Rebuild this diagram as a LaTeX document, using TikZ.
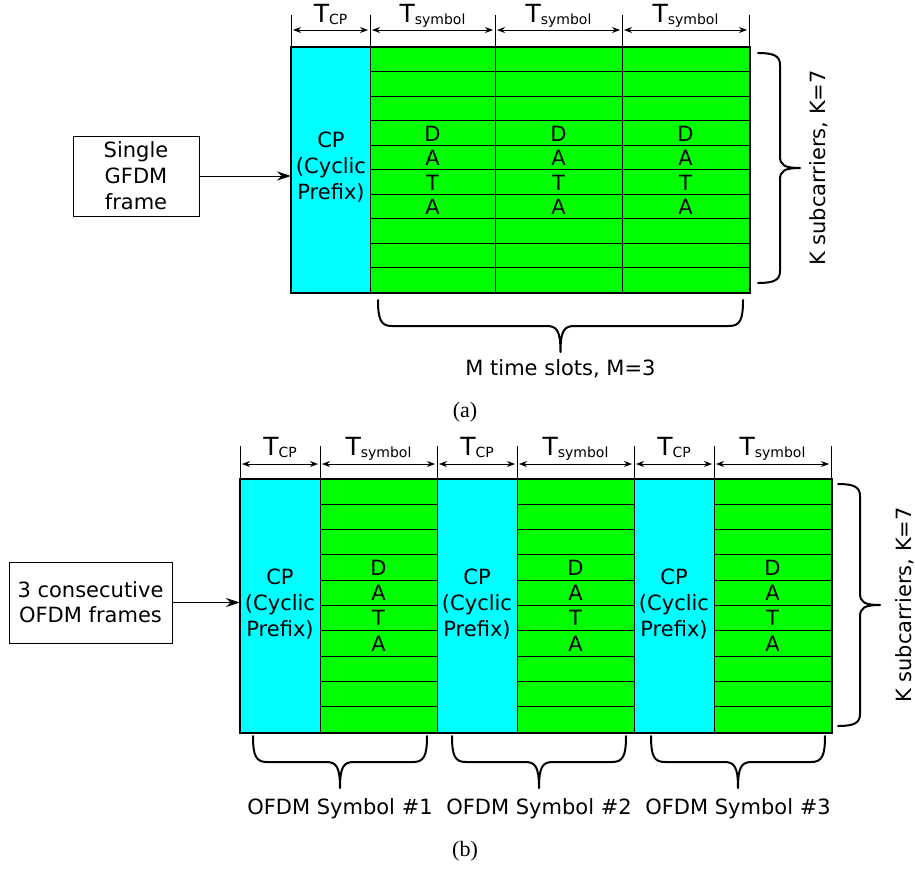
\documentclass[tikz,border=0pt]{standalone}
\usepackage{fontspec}
\setmainfont{DejaVu Sans}
\newfontfamily\capfont{Liberation Serif}
\usetikzlibrary{arrows.meta}
\definecolor{cpcyan}{RGB}{0,255,255}
\definecolor{datagreen}{RGB}{0,255,0}
\newcommand{\Tlab}[1]{T\raisebox{-2pt}{\fontsize{14}{14}\selectfont #1}}
\newcommand{\HBrace}[3]{%
 \draw[brace] (#1,#3) .. controls (#1,{#3+20}) and ({#1+3},{#3+26}) .. ({#1+14},{#3+26})
   -- ({(#1+#2)/2-14},{#3+26}) .. controls ({(#1+#2)/2-4},{#3+26}) and ({(#1+#2)/2},{#3+30}) .. ({(#1+#2)/2},{#3+52})
   .. controls ({(#1+#2)/2},{#3+30}) and ({(#1+#2)/2+4},{#3+26}) .. ({(#1+#2)/2+14},{#3+26})
   -- ({#2-14},{#3+26}) .. controls ({#2-3},{#3+26}) and (#2,{#3+20}) .. (#2,#3);}
\newcommand{\VBrace}[3]{%
 \draw[brace] (#1,#2) .. controls ({#1+16},#2) and ({#1+22},{#2+3}) .. ({#1+22},{#2+12})
   -- ({#1+22},{(#2+#3)/2-12}) .. controls ({#1+22},{(#2+#3)/2-3}) and ({#1+26},{(#2+#3)/2}) .. ({#1+42},{(#2+#3)/2})
   .. controls ({#1+26},{(#2+#3)/2}) and ({#1+22},{(#2+#3)/2+3}) .. ({#1+22},{(#2+#3)/2+12})
   -- ({#1+22},{#3-12}) .. controls ({#1+22},{#3-3}) and ({#1+16},#3) .. (#1,#3);}
\begin{document}
\begin{tikzpicture}[x=1pt,y=-1pt,
  lbl/.style={font=\fontsize{21}{26}\selectfont, inner sep=0pt, align=center},
  vlbl/.style={font=\fontsize{21}{26}\selectfont, inner sep=0pt, rotate=90, anchor=base},
  datalbl/.style={inner sep=0pt, align=center},
  tlbl/.style={font=\fontsize{25}{25}\selectfont, inner sep=0pt, anchor=base},
  cpcol/.style={draw=black, fill=cpcyan, line width=1pt, inner sep=0pt, anchor=north west},
  datcol/.style={draw=black, fill=datagreen, line width=1pt, inner sep=0pt, anchor=north west},
  outer/.style={draw=black, line width=1.5pt},
  rowline/.style={line width=0.9pt},
  tickline/.style={line width=0.9pt},
  dimarrow/.style={{Stealth[length=8pt,width=6pt]}-{Stealth[length=8pt,width=6pt]}, line width=0.9pt},
  conn/.style={-{Stealth[length=14pt,width=9pt]}, line width=1pt},
  framebox/.style={draw=black, line width=1pt, inner sep=0pt, align=center},
  brace/.style={line width=2pt, line cap=round, line join=round},
  caption/.style={font=\capfont\fontsize{22}{22}\selectfont, inner sep=0pt},
]
\useasboundingbox (0,0) rectangle (915,870);

% ================= (a) =================
\node[cpcol, minimum width=79pt, minimum height=245pt] (cpA) at (291,47) {};
\node[datcol, minimum width=125pt, minimum height=245pt] (dA1) at (370,47) {};
\node[datcol, minimum width=127pt, minimum height=245pt] (dA2) at (495,47) {};
\node[datcol, minimum width=127pt, minimum height=245pt] (dA3) at (622,47) {};
\foreach \i in {1,...,9} \draw[rowline] (370,{47+24.5*\i}) -- (749,{47+24.5*\i});
\draw[outer] (cpA.north west) rectangle (dA3.south east);

\node[lbl] (cptA) at (331,167.3) {CP\\(Cyclic\\Prefix)};
\foreach \x/\n in {432.5/1,558.5/2,685.5/3}
  \node[datalbl, font=\fontsize{21}{24.5}\selectfont] (dtA\n) at (\x,170.2) {D\\A\\T\\A};

% top dimensions (a)
\foreach \x/\n in {291/0,370/1,495/2,622/3,749/4} {
  \coordinate (tA\n) at (\x,30);
  \draw[tickline] (\x,15) -- (\x,47);
}
\foreach \a/\b in {0/1,1/2,2/3,3/4}
  \draw[dimarrow] ([xshift=2pt]tA\a) -- ([xshift=-2pt]tA\b);
\node[tlbl] (lTA0) at (330.5,22) {\Tlab{CP}};
\node[tlbl] (lTA1) at (432.5,22) {\Tlab{symbol}};
\node[tlbl] (lTA2) at (558.5,22) {\Tlab{symbol}};
\node[tlbl] (lTA3) at (685.5,22) {\Tlab{symbol}};

% input box (a)
\node[framebox, font=\fontsize{21}{26}\selectfont, minimum width=126pt, minimum height=80pt] (boxA) at (136,176) {Single\\GFDM\\frame};
\draw[conn] (boxA.east) -- (boxA.east -| cpA.west);

% braces (a)
\VBrace{758}{53}{283}
\node[vlbl] (kA) at (825,168) {K subcarriers, K=7};
\HBrace{378}{743}{300}
\node[lbl] (mA) at (560.5,369) {M time slots, M=3};
\node[caption] (capA) at (465,412) {(a)};

% ================= (b) =================
\node[cpcol, minimum width=80pt, minimum height=253pt] (cpB1) at (240,479) {};
\node[datcol, minimum width=117pt, minimum height=253pt] (dB1) at (320,479) {};
\node[cpcol, minimum width=80pt, minimum height=253pt] (cpB2) at (437,479) {};
\node[datcol, minimum width=117pt, minimum height=253pt] (dB2) at (517,479) {};
\node[cpcol, minimum width=80pt, minimum height=253pt] (cpB3) at (634,479) {};
\node[datcol, minimum width=117pt, minimum height=253pt] (dB3) at (714,479) {};
\foreach \xa/\xb in {320/437,517/634,714/831}
  \foreach \i in {1,...,9} \draw[rowline] (\xa,{479+25.3*\i}) -- (\xb,{479+25.3*\i});
\draw[outer] (cpB1.north west) rectangle (dB3.south east);

\foreach \x/\n in {280/1,477/2,674/3}
  \node[lbl] (cptB\n) at (\x,604.3) {CP\\(Cyclic\\Prefix)};
\foreach \x/\n in {378.5/1,575.5/2,772.5/3}
  \node[datalbl, font=\fontsize{21}{25.3}\selectfont] (dtB\n) at (\x,605.5) {D\\A\\T\\A};

% top dimensions (b)
\foreach \x/\n in {240/0,320/1,437/2,517/3,634/4,714/5,831/6} {
  \coordinate (tB\n) at (\x,464);
  \draw[tickline] (\x,446) -- (\x,479);
}
\foreach \a/\b in {0/1,1/2,2/3,3/4,4/5,5/6}
  \draw[dimarrow] ([xshift=2pt]tB\a) -- ([xshift=-2pt]tB\b);
\node[tlbl] (lTB0) at (280,455) {\Tlab{CP}};
\node[tlbl] (lTB1) at (378.5,455) {\Tlab{symbol}};
\node[tlbl] (lTB2) at (477,455) {\Tlab{CP}};
\node[tlbl] (lTB3) at (575.5,455) {\Tlab{symbol}};
\node[tlbl] (lTB4) at (674,455) {\Tlab{CP}};
\node[tlbl] (lTB5) at (772.5,455) {\Tlab{symbol}};

% input box (b)
\node[framebox, font=\fontsize{21}{25}\selectfont, minimum width=163pt, minimum height=81pt] (boxB) at (90.5,602.5) {3 consecutive\\OFDM frames};
\draw[conn] (boxB.east) -- (boxB.east -| cpB1.west);

% braces (b)
\VBrace{838}{484}{726}
\node[vlbl] (kB) at (911,605) {K subcarriers, K=7};
\HBrace{253}{427}{736}
\HBrace{452}{626}{736}
\HBrace{651}{825}{736}
\node[lbl] (sB1) at (340,809) {OFDM Symbol \#1};
\node[lbl] (sB2) at (539,809) {OFDM Symbol \#2};
\node[lbl] (sB3) at (738,809) {OFDM Symbol \#3};
\node[caption] (capB) at (465,851) {(b)};
\end{tikzpicture}
\end{document}
